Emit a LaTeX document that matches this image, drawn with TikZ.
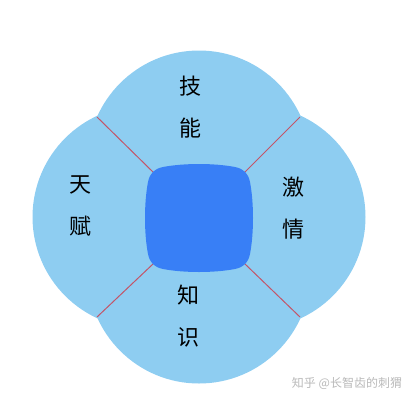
\documentclass[tikz,border=0pt]{standalone}
\usepackage{fontspec}
\usepackage{xcolor}
\newfontfamily\cjk{Noto Sans CJK SC}
\definecolor{petalblue}{RGB}{142,205,241}
\definecolor{coreblue}{RGB}{56,127,246}
\definecolor{seamred}{RGB}{196,84,104}
\tikzstyle{every node}=[font=\cjk]
\tikzstyle{petal} = [circle, fill=petalblue, minimum size=223pt, inner sep=0pt]
\tikzstyle{word} = [align=center, text=black, font=\cjk\fontsize{22}{42}\selectfont]
\tikzstyle{seam} = [draw=seamred, line width=1pt]

\begin{document}
\begin{tikzpicture}[x=1pt,y=-1pt]
    \useasboundingbox (0,0) rectangle (415,400);
    % Place nodes
    \node [petal] (skill) at (199,162) {};
    \node [petal] (passion) at (254,217) {};
    \node [petal] (knowledge) at (199,272) {};
    \node [petal] (talent) at (144,217) {};
    \coordinate (core) at (199,218);
    % seam ends
    \coordinate (tl) at (97,117);
    \coordinate (tr) at (300,117);
    \coordinate (bl) at (97,317);
    \coordinate (br) at (300,317);
    \coordinate (core-tl) at (153,172);
    \coordinate (core-tr) at (245,172);
    \coordinate (core-bl) at (153,264);
    \coordinate (core-br) at (245,264);
    % Draw edges
    \path [seam] (core-tl) -- (tl);
    \path [seam] (core-tr) -- (tr);
    \path [seam] (core-bl) -- (bl);
    \path [seam] (core-br) -- (br);
    \fill [coreblue, shift={(core)}] (-36,-51) .. controls (-15,-55) and (15,-55) .. (36,-51)
        .. controls (45,-49) and (49,-45) .. (51,-36) .. controls (55,-15) and (55,15) .. (51,36)
        .. controls (49,45) and (45,49) .. (36,51) .. controls (15,55) and (-15,55) .. (-36,51)
        .. controls (-45,49) and (-49,45) .. (-51,36) .. controls (-55,15) and (-55,-15) .. (-51,-36)
        .. controls (-49,-45) and (-45,-49) .. cycle;
    % labels
    \node [word] (skill-text) at (190,107) {技\\能};
    \node [word] (passion-text) at (293,208) {激\\情};
    \node [word] (knowledge-text) at (188,316) {知\\识};
    \node [word] (talent-text) at (80,206) {天\\赋};
    \node [text=gray!55, font=\cjk\fontsize{12}{12}\selectfont] (mark) at (347,383) {知乎 @长智齿的刺猬};
\end{tikzpicture}
\end{document}
